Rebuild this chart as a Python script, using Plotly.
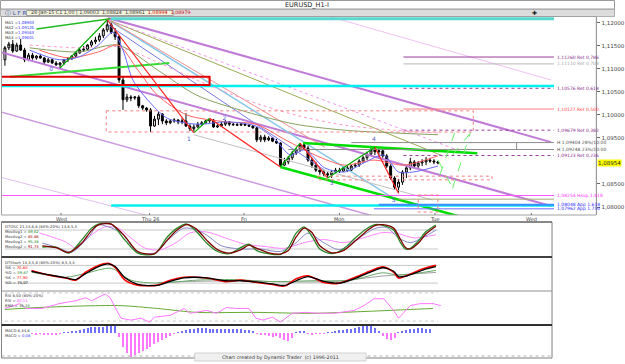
import plotly.graph_objects as go

W, H = 625, 364
def px(v): return v / W
def py(v): return 1 - v / H

FONT = "DejaVu Sans"

# ---------------- candle data (EURUSD H1) ----------------
first_open = 1.1120
close = [1.1146, 1.1154, 1.1139, 1.1152, 1.1141, 1.1120, 1.1130, 1.1124, 1.1128, 1.1124,
         1.1115, 1.1120, 1.1113, 1.1109, 1.1113, 1.1120, 1.1122, 1.1128, 1.1135, 1.1141,
         1.1143, 1.1152, 1.1159, 1.1163, 1.1172, 1.1185, 1.1196, 1.1180, 1.1170, 1.1076,
         1.1033, 1.1039, 1.1037, 1.1039, 1.1020, 1.1015, 1.1011, 1.0976, 1.0991, 1.1002,
         1.0987, 1.0983, 1.0987, 1.0989, 1.0985, 1.0987, 1.0976, 1.0970, 1.0974, 1.0980,
         1.0983, 1.0987, 1.0989, 1.0974, 1.0976, 1.0980, 1.0985, 1.0980, 1.0979, 1.0978,
         1.0980, 1.0978, 1.0976, 1.0972, 1.0946, 1.0952, 1.0946, 1.0950, 1.0943, 1.0939,
         1.0891, 1.0898, 1.0907, 1.0917, 1.0924, 1.0935, 1.0928, 1.0902, 1.0891, 1.0880,
         1.0876, 1.0872, 1.0870, 1.0876, 1.0880, 1.0878, 1.0885, 1.0880, 1.0889, 1.0891,
         1.0900, 1.0907, 1.0915, 1.0924, 1.0920, 1.0922, 1.0911, 1.0889, 1.0863, 1.0843,
         1.0854, 1.0876, 1.0885, 1.0898, 1.0889, 1.0896, 1.0898, 1.0902, 1.0900, 1.0898, 1.0896]
high = [1.1150, 1.1159, 1.1163, 1.1157, 1.1165, 1.1146, 1.1135, 1.1135, 1.1130, 1.1133,
        1.1126, 1.1124, 1.1122, 1.1117, 1.1115, 1.1122, 1.1126, 1.1130, 1.1137, 1.1146,
        1.1150, 1.1154, 1.1163, 1.1170, 1.1178, 1.1189, 1.1207, 1.1202, 1.1189, 1.1174,
        1.1083, 1.1046, 1.1043, 1.1041, 1.1043, 1.1022, 1.1017, 1.1015, 1.0998, 1.1007,
        1.1004, 1.0991, 1.0991, 1.0993, 1.0991, 1.0993, 1.1004, 1.0980, 1.0980, 1.0985,
        1.0987, 1.0989, 1.0993, 1.0991, 1.0980, 1.0985, 1.0989, 1.0987, 1.0983, 1.0983,
        1.0983, 1.0983, 1.0980, 1.0978, 1.0974, 1.0957, 1.0957, 1.0954, 1.0952, 1.0948,
        1.0941, 1.0907, 1.0911, 1.0922, 1.0928, 1.0939, 1.0939, 1.0933, 1.0907, 1.0898,
        1.0885, 1.0880, 1.0876, 1.0880, 1.0885, 1.0885, 1.0889, 1.0889, 1.0893, 1.0896,
        1.0904, 1.0911, 1.0920, 1.0928, 1.0930, 1.0928, 1.0926, 1.0915, 1.0893, 1.0867,
        1.0861, 1.0880, 1.0891, 1.0907, 1.0902, 1.0900, 1.0904, 1.0909, 1.0907, 1.0904, 1.0900]
low = [1.1107, 1.1141, 1.1135, 1.1137, 1.1139, 1.1115, 1.1117, 1.1120, 1.1120, 1.1122,
       1.1111, 1.1113, 1.1111, 1.1107, 1.1102, 1.1109, 1.1115, 1.1120, 1.1124, 1.1133,
       1.1137, 1.1141, 1.1148, 1.1154, 1.1159, 1.1167, 1.1180, 1.1176, 1.1163, 1.1070,
       1.1011, 1.1028, 1.1030, 1.1033, 1.1015, 1.1011, 1.1007, 1.0963, 1.0974, 1.0978,
       1.0980, 1.0978, 1.0980, 1.0983, 1.0980, 1.0980, 1.0974, 1.0965, 1.0961, 1.0972,
       1.0976, 1.0980, 1.0983, 1.0972, 1.0972, 1.0974, 1.0976, 1.0976, 1.0976, 1.0976,
       1.0976, 1.0976, 1.0974, 1.0970, 1.0941, 1.0941, 1.0941, 1.0943, 1.0941, 1.0937,
       1.0887, 1.0889, 1.0893, 1.0902, 1.0913, 1.0920, 1.0924, 1.0898, 1.0885, 1.0876,
       1.0870, 1.0867, 1.0863, 1.0863, 1.0872, 1.0874, 1.0876, 1.0876, 1.0878, 1.0885,
       1.0887, 1.0896, 1.0902, 1.0911, 1.0913, 1.0909, 1.0907, 1.0885, 1.0859, 1.0837,
       1.0830, 1.0848, 1.0863, 1.0880, 1.0885, 1.0885, 1.0889, 1.0891, 1.0896, 1.0893, 1.0893]
n = len(close)
bars = list(range(n))
open_ = [first_open] + close[:-1]

# moving averages (sampled)
ma1_x = [6.25, 13.75, 18.75, 23.75, 27.5, 30, 32.5, 36.25, 41.25, 48.75, 56.25, 63.75, 68.75, 72.5, 76.25, 81.25, 86.25, 91.25, 96.25, 100, 103.75, 110]
ma1_y = [1.1141, 1.1120, 1.1126, 1.1152, 1.1180, 1.1141, 1.1076, 1.1033, 1.0993, 1.0980, 1.0985, 1.0976, 1.0946, 1.0913, 1.0924, 1.0885, 1.0876, 1.0896, 1.0913, 1.0876, 1.0876, 1.0889]
ma2_x = [8.75, 16.25, 23.75, 28.75, 33.75, 38.75, 46.25, 56.25, 63.75, 71.25, 78.75, 86.25, 93.75, 101.25, 110]
ma2_y = [1.1141, 1.1124, 1.1137, 1.1152, 1.1098, 1.1043, 1.1000, 1.0985, 1.0980, 1.0946, 1.0913, 1.0891, 1.0902, 1.0891, 1.0911]
ma3_x = [6.25, 18.75, 28.75, 38.75, 48.75, 61.25, 73.75, 86.25, 98.75, 110]
ma3_y = [1.1146, 1.1137, 1.1152, 1.1098, 1.1043, 1.1007, 1.0980, 1.0967, 1.0961, 1.0957]
ma4_x = [6.25, 18.75, 28.75, 38.75, 48.75, 61.25, 73.75, 86.25, 98.75, 110]
ma4_y = [1.1152, 1.1146, 1.1148, 1.1115, 1.1076, 1.1033, 1.1000, 1.0978, 1.0967, 1.0961]

# zigzag pivots
zz_x = [14, 26, 48, 52, 70, 75, 82, 94, 100]
zz_y = [1.1102, 1.1207, 1.0961, 1.0993, 1.0887, 1.0939, 1.0863, 1.0930, 1.0830]
wave_lab = ["0", "1", "2", "3", "4", "5"]
wave_x = [11.75, 46.75, 55.75, 83, 93.75, 98.75]
wave_y = [1.1098, 1.0946, 1.0993, 1.0852, 1.0946, 1.0815]

# horizontal levels: price, start bar, label
lvl_price = [1.1126, 1.1111, 1.1058, 1.1013, 1.0967, 1.0940, 1.0925, 1.0912, 1.0825, 1.0805, 1.0796]
lvl_start = [101.25, 101.25, 101.25, 101.25, 101.25, 88, 72, 101.25, -1.25, 95, 93.75]
lvl_text = ["1,11260 Ret 0,786", "1,11110 Ret 0,708", "1,10576 Ret 0,618", "1,10127 Ret 0,500",
            "1,09679 Ret 0,382", "H 1,09404 28%/10:00", "H 1,09248 23%/10:00", "1,09123 Ret 0,236",
            "1,08254 Hsup 1.618", "1,08048 App 1.618", "1,07962 App 1.750"]
lvl_col = ["#9a3c9a", "#b8b8b8", "#9a3c9a", "#ff7f7f", "#9a3c9a", "#8c8c8c", "#8c8c8c", "#9a3c9a",
           "#ff55ff", "#3a8cff", "#6a6aff"]
lvl_tcol = ["#8a2c8a", "#a8a8a8", "#8a2c8a", "#ff4040", "#8a2c8a", "#505050", "#505050", "#8a2c8a",
            "#ff33ff", "#2a2aff", "#2a2aff"]
lvl_end = 139.5
hmark_x = 130

# oscillators
st1_gx = [9.5, 13, 16.25, 19.5, 22, 23.75, 27, 30.5, 33.75, 38, 41.25, 43.75, 46.25, 48.75, 51.25, 54, 57, 60, 62, 64, 67, 70, 72, 74, 76, 78, 80, 83, 86, 89, 92, 94, 96, 98.75, 100.5, 101.75, 103, 105, 107, 109.5]
st1_g = [26, 26, 7, 48, 86, 99, 99, 48, 7, 4, 58, 86, 99, 74, 39, 12, 5, 25, 35, 15, 5, 3, 25, 70, 90, 60, 20, 5, 20, 55, 85, 97, 95, 80, 40, 20, 22, 45, 75, 96]
st1_r = [30, 24, 9, 38, 78, 96, 99, 60, 12, 5, 48, 80, 97, 82, 48, 18, 7, 18, 32, 22, 8, 4, 15, 58, 86, 72, 30, 8, 15, 45, 78, 94, 97, 86, 50, 25, 20, 38, 68, 92]
st1_bx = [9.5, 13.75, 17, 21.25, 23.75, 26.25, 29.5, 33.75, 38, 42, 45.5, 48.75, 51.25, 55, 60, 65, 70, 74, 77, 81, 85, 90, 94, 97, 100, 103, 106, 109.5]
st1_b = [39, 23, 10, 58, 96, 90, 71, 10, 7, 55, 86, 80, 64, 30, 20, 20, 12, 40, 70, 40, 18, 55, 85, 88, 55, 40, 55, 80]
st1_px = [8.75, 15.5, 18, 21.25, 25.5, 28.75, 32, 35.5, 39.5, 43.75, 47, 51.25, 56, 61, 66, 71, 76, 81, 86, 91, 96, 100, 104, 109.5]
st1_p = [71, 42, 23, 58, 90, 86, 55, 23, 17, 42, 71, 74, 55, 35, 28, 22, 40, 50, 40, 55, 72, 68, 55, 65]

st2_x = [6.75, 11.25, 15.5, 18, 20.5, 23.75, 26.25, 28, 30.5, 33.75, 38.75, 42, 45.5, 51.25, 56, 60, 64, 68, 71, 74, 77, 81, 85, 89, 93, 96, 98.75, 100, 102, 105, 107, 109.5]
st2_r = [63, 47, 37, 30, 57, 80, 87, 73, 30, 13, 13, 30, 40, 37, 25, 30, 22, 15, 10, 35, 45, 22, 20, 40, 62, 75, 57, 37, 45, 62, 72, 80]
st2_k = [60, 48, 38, 32, 52, 76, 85, 76, 38, 16, 12, 26, 38, 38, 28, 28, 24, 17, 12, 28, 42, 26, 20, 36, 58, 72, 60, 42, 44, 58, 68, 76]
st2_gx = [6.75, 15.5, 20.5, 27, 32, 38.75, 48.75, 58, 68, 78, 88, 96, 100, 109.5]
st2_g = [57, 40, 53, 70, 30, 20, 30, 32, 25, 28, 30, 55, 47, 63]
st2_ax = [38.75, 48.75, 60, 72, 84, 96, 109.5]
st2_a = [22, 26, 28, 24, 26, 44, 56]

rsi_x = [0, 3.75, 5.5, 9.5, 13.75, 18, 20.5, 22, 25.5, 26.75, 28, 29.5, 32, 34.5, 36.75, 38, 42, 45.5, 47, 51.25, 53.75, 56.25, 58.75, 62, 63.75, 65.5, 68, 70, 73, 76.25, 79.5, 83.75, 88.75, 91.25, 93.75, 96.25, 98.75, 100, 103, 105.5, 108.75, 110.75]
rsi_v = [46.9, 57.2, 46.9, 46.9, 57.2, 63.4, 69.7, 63.4, 77.9, 69.7, 49.0, 26.2, 22.1, 26.2, 17.9, 28.3, 32.4, 46.9, 36.6, 42.8, 36.6, 49.0, 46.9, 46.9, 26.2, 22.1, 28.3, 17.9, 36.6, 38.6, 36.6, 36.6, 42.8, 53.1, 67.6, 67.6, 42.8, 26.2, 53.1, 57.2, 57.2, 53.1]
ema_x = [0, 8.75, 28.75, 38.75, 48.75, 63.75, 78, 92, 108.75]
ema_v = [44.8, 49.0, 53.1, 46.9, 38.6, 38.6, 36.6, 40.7, 46.9]

macd = [0, 0, 0, 0, 0, 0, 0, -1, -1.5, -1, -1.5, -2, -2, -1.5, -1, 0.5, 1, 1.5,
        2, 3, 4, 5, 6, 6, 6, 6, 7, 7, 7,
        -4, -14, -20, -24, -22, -20, -18, -16, -14, -11, -9, -7, -5, -3, -1,
        1, 2, 3, 4, 4, 5, 5, 5, 4,
        4, 4, 4, 4, 4, 4, 4, 4, 3, 3, 2,
        -1, -2, -2, -3, -4, -3, -5, -7, -8, -5,
        1, 2, 2, -1, -1.5, -1, -1, -0.5, 0.5, 1,
        2, 3, 3, 4, 4, 5, 6, 7, 8, 8, 5, 2,
        -3, -6, -7, -5,
        1, 2, 3, 4, 4, 5, 5, 4, 4]

day_x = [14.25, 36.75, 60.75, 85, 109.25, 133.75]
day_lab = ["Wed", "Thu 26", "Fri", "Mon", "Tue", "Wed"]

price_ticks = [1.080, 1.085, 1.095, 1.100, 1.105, 1.110, 1.115, 1.120]

# ---------------- figure ----------------
fig = go.Figure()
XR_MAIN = [-0.75, 150.25]
XR_SUB = [-0.75, 139.0]

def seg(x0, y0, x1, y1, color, width=1.0, dash="solid", xa="x", ya="y"):
    fig.add_trace(go.Scatter(x=[x0, x1], y=[y0, y1], mode="lines",
                             line=dict(color=color, width=width, dash=dash),
                             hoverinfo="skip", showlegend=False, xaxis=xa, yaxis=ya))

def curve(xs, ys, color, width=1.0, dash="solid", xa="x", ya="y", shape="spline"):
    fig.add_trace(go.Scatter(x=xs, y=ys, mode="lines",
                             line=dict(color=color, width=width, dash=dash, shape=shape, smoothing=0.8),
                             hoverinfo="skip", showlegend=False, xaxis=xa, yaxis=ya))

# channel / fan lines
seg(26.25, 1.1211, 138.75, 1.0941, "#c07ad8", 2)
seg(-1.25, 1.1137, 138.75, 1.0802, "#c07ad8", 2)
seg(-1.25, 1.1007, 93.75, 1.0780, "#cc99e0", 1.5)
seg(-1.25, 1.0865, 38.75, 1.0776, "#e0bff0", 1)
seg(81.25, 1.1217, 138.75, 1.1076, "#f2c0f2", 1)
seg(26.25, 1.1207, 99.5, 1.0815, "#88c8e8", 1.5)
seg(26.25, 1.1196, 81.25, 1.0880, "#7878e0", 1)
seg(26.25, 1.1207, 81.25, 1.0930, "#f09090", 1)
seg(26.25, 1.1207, 111.25, 1.0911, "#9aaa55", 1)
seg(26.25, 1.1207, 116.25, 1.0920, "#ee99ee", 1, "dot")
seg(48, 1.0957, 108.75, 1.0815, "#c0c0c0", 1)
seg(1.25, 1.1083, 41.75, 1.1113, "#33dd33", 2)
seg(8, 1.1187, 26.75, 1.1209, "#22bb22", 1.5)
seg(70, 1.0887, 120.75, 1.0767, "#00dd00", 2.5)
seg(75.75, 1.0939, 120, 1.0917, "#00dd00", 2.5)

# thick cyan levels
seg(27, 1.1209, 139.5, 1.1209, "#5ad8d0", 3)
seg(-1.25, 1.1063, 139.5, 1.1063, "#00f0f0", 2.5)
seg(27, 1.0803, 139.5, 1.0803, "#00f0f0", 2.5)
seg(100, 1.0817, 139.5, 1.0817, "#a8a878", 1)

for i, (p, s, c) in enumerate(zip(lvl_price, lvl_start, lvl_col)):
    wdt = 2 if i == 9 else 1
    dash = "dot" if i in (2, 4, 7) else "solid"
    seg(s, p, lvl_end, p, c, wdt, dash)
seg(hmark_x, lvl_price[5], hmark_x, lvl_price[6], "#8c8c8c", 1)

# moving averages
curve(ma4_x, ma4_y, "#ff99cc", 1, "dot")
curve(ma3_x, ma3_y, "#88a060", 1)
curve(ma2_x, ma2_y, "#ff6060", 1)
curve(ma1_x, ma1_y, "#6a6aff", 1)

# rectangles
shapes = []
def rect(x0, y0, x1, y1, color, width=1, dash="solid", xref="x", yref="y"):
    shapes.append(dict(type="rect", xref=xref, yref=yref, x0=x0, y0=y0, x1=x1, y1=y1,
                       line=dict(color=color, width=width, dash=dash), fillcolor="rgba(0,0,0,0)", layer="above"))
rect(-1.25, 1.1083, 52, 1.1065, "#e00000", 2)
rect(25.75, 1.1009, 119, 1.0963, "#f08080", 1, "dot")
rect(105, 1.0826, 110, 1.0789, "#f08080", 1, "dot")
rect(79.5, 1.0867, 123.75, 1.0859, "#f08080", 1, "dot")

# lime projection arrows
seg(110, 1.0902, 113.75, 1.0841, "#66ee66", 1, "dash")
seg(110.5, 1.0870, 114.25, 1.0961, "#66ee66", 1, "dash")
seg(113.75, 1.0913, 118.25, 1.0961, "#66ee66", 1, "dash")
seg(113.75, 1.0841, 118.25, 1.0961, "#66ee66", 1, "dash")

# candles
fig.add_trace(go.Candlestick(x=bars, open=open_, high=high, low=low, close=close,
                             increasing=dict(line=dict(color="#000000", width=1), fillcolor="#f0f0f0"),
                             decreasing=dict(line=dict(color="#000000", width=1), fillcolor="#000000"),
                             whiskerwidth=0, hoverinfo="skip", showlegend=False, xaxis="x", yaxis="y"))

# zigzag
for k in range(len(zz_x) - 1):
    col = "#00b000" if zz_y[k + 1] > zz_y[k] else "#ff2020"
    seg(zz_x[k], zz_y[k], zz_x[k + 1], zz_y[k + 1], col, 1.2)

fig.add_trace(go.Scatter(x=wave_x, y=wave_y, mode="text", text=wave_lab,
                         textfont=dict(family=FONT, size=6, color="#5a5acc"),
                         hoverinfo="skip", showlegend=False, xaxis="x", yaxis="y"))

# ---- subpanel 1: DTOSC
for lvl in (80, 20):
    seg(0, lvl, 110, lvl, "#c8c8c8", 1, xa="x2", ya="y2")
curve(st1_px, st1_p, "#ff88ff", 1, xa="x2", ya="y2")
curve(st1_bx, st1_b, "#8888cc", 1, xa="x2", ya="y2")
curve(st1_gx, st1_g, "#2a8a2a", 1.3, xa="x2", ya="y2")
curve(st1_gx, st1_r, "#800000", 1.3, xa="x2", ya="y2")

# ---- subpanel 2: DTStoch
for lvl in (80, 20):
    seg(0, lvl, 110, lvl, "#c8c8c8", 1, xa="x3", ya="y3")
curve(st2_ax, st2_a, "#a0a0a0", 1, xa="x3", ya="y3")
curve(st2_gx, st2_g, "#66aa66", 1, xa="x3", ya="y3")
curve(st2_x, st2_r, "#ff0000", 1.6, xa="x3", ya="y3")
curve(st2_x, st2_k, "#000000", 1.3, xa="x3", ya="y3")

# ---- subpanel 3: RSI
for lvl in (80, 20):
    seg(0, lvl, 110, lvl, "#c8c8c8", 1, "dot", xa="x4", ya="y4")
curve(ema_x, ema_v, "#66aa33", 1, xa="x4", ya="y4")
curve(rsi_x, rsi_v, "#ff77ff", 1, xa="x4", ya="y4", shape="linear")

# ---- subpanel 4: MACD
fig.add_trace(go.Bar(x=bars, y=macd, marker=dict(color=["#7070ff" if v >= 0 else "#ff77ff" for v in macd], line=dict(width=0)),
                     width=0.3, hoverinfo="skip", showlegend=False, xaxis="x5", yaxis="y5"))

# ---------------- layout ----------------
ax_hidden = dict(visible=False, showgrid=False, zeroline=False, fixedrange=True)
layout = dict(
    width=W, height=H, margin=dict(l=0, r=0, t=0, b=0),
    paper_bgcolor="#ffffff", plot_bgcolor="#ffffff", showlegend=False,
    font=dict(family=FONT, size=6, color="#333333"),
    xaxis=dict(domain=[px(2), px(606)], range=XR_MAIN, rangeslider=dict(visible=False), anchor="y", **ax_hidden),
    yaxis=dict(domain=[py(215), py(17)], range=[1.07826, 1.12130], side="right", anchor="x",
               tickvals=price_ticks, ticktext=[("%.5f" % v).replace(".", ",") for v in price_ticks],
               ticks="outside", ticklen=3, tickcolor="#666666", tickfont=dict(size=5.5, color="#444444", family=FONT),
               showline=True, linecolor="#777777", linewidth=1, showgrid=False, zeroline=False),
    xaxis2=dict(domain=[px(2), px(561)], range=XR_SUB, anchor="y2", **ax_hidden),
    yaxis2=dict(domain=[py(257), py(222)], range=[-5.4, 105.4], anchor="x2", **ax_hidden),
    xaxis3=dict(domain=[px(2), px(561)], range=XR_SUB, anchor="y3", **ax_hidden),
    yaxis3=dict(domain=[py(291), py(257)], range=[-6.8, 108.5], anchor="x3", **ax_hidden),
    xaxis4=dict(domain=[px(2), px(561)], range=XR_SUB, anchor="y4", **ax_hidden),
    yaxis4=dict(domain=[py(325), py(291)], range=[11.7, 84.1], anchor="x4", **ax_hidden),
    xaxis5=dict(domain=[px(2), px(561)], range=XR_SUB, anchor="y5", **ax_hidden),
    yaxis5=dict(domain=[py(358), py(325)], range=[-25, 8], anchor="x5", **ax_hidden),
    bargap=0,
)

# frames (paper)
def prect(x0, y0, x1, y1, color, width=1, fill="rgba(0,0,0,0)", layer="above"):
    shapes.append(dict(type="rect", xref="paper", yref="paper", x0=px(x0), y0=py(y0), x1=px(x1), y1=py(y1),
                       line=dict(color=color, width=width), fillcolor=fill, layer=layer))
def pline(x0, y0, x1, y1, color, width=1, dash="solid"):
    shapes.append(dict(type="line", xref="paper", yref="paper", x0=px(x0), y0=py(y0), x1=px(x1), y1=py(y1),
                       line=dict(color=color, width=width, dash=dash), layer="above"))

prect(0.5, 0.5, 624.5, 9, "#9a9a9a", 1, "#ffffff")
prect(0.5, 9, 624.5, 16.5, "#b0b0b0", 1, "#dcdcdc", "below")
prect(27, 10.5, 176, 15.5, "#a0a0a0", 1, "#f4f4dc", "below")
prect(1.5, 16.5, 606, 215, "#a0a0a0", 1)
prect(1.5, 222, 561, 358, "#808080", 1)
pline(1.5, 222, 561, 222, "#505050", 1)
pline(1.5, 257, 561, 257, "#404040", 2)
pline(1.5, 291, 561, 291, "#909090", 1)
pline(1.5, 325, 561, 325, "#303030", 2)
pline(1.5, 356, 561, 356, "#b0b0b0", 1, "dot")
for xd in (62, 152, 248, 345, 442, 540):
    pline(xd, 213, xd, 215, "#777777", 1)
prect(198, 353, 372, 361, "#d0d0d0", 1, "#f0f0f0")

layout["shapes"] = shapes

ann = []
def txt(x, y, s, color="#333333", size=5.5, anchor="left", bg=None, yanchor="middle"):
    d = dict(xref="paper", yref="paper", x=px(x), y=py(y), text=s, showarrow=False, align="left",
             xanchor=anchor, yanchor=yanchor, font=dict(family=FONT, size=size, color=color))
    if bg:
        d["bgcolor"] = bg
    ann.append(d)

txt(312, 5, "EURUSD_H1-I", "#222222", 6.5, "center")
txt(3, 12.8, "ⓘ L F R", "#3050a0", 5.5)
txt(29, 13, "28-Jan-15 C1 1,00 | 1,09003  1,08824  1,08961  <span style='color:#d00000'>1,08994  1,08979</span>", "#333333", 4.8)
txt(543, 12.8, "✚", "#222222", 6, "center")
txt(3, 17.5, "MA1 =<span style='color:#3030ff'>1,08903</span><br>MA2 =<span style='color:#3030ff'>1,09126</span><br>"
             "MA3 =<span style='color:#3030ff'>1,09563</span><br>MA4 =<span style='color:#3030ff'>1,09601</span>",
    "#333333", 3.9, yanchor="top")

for p, t, c in zip(lvl_price, lvl_text, lvl_tcol):
    ann.append(dict(xref="paper", yref="y", x=px(564), y=p, text=t, showarrow=False, xanchor="left",
                    yanchor="middle", font=dict(family=FONT, size=4.5, color=c)))
ann.append(dict(xref="paper", yref="y", x=px(606.5), y=close[-1], text="1,08954", showarrow=False,
                xanchor="left", yanchor="middle", bgcolor="#ffff00", borderpad=0,
                font=dict(family=FONT, size=5.5, color="#222222")))

for xd, lab in zip(day_x, day_lab):
    ann.append(dict(xref="x", yref="paper", x=xd, y=py(218.5), text=lab, showarrow=False, xanchor="center",
                    yanchor="middle", font=dict(family=FONT, size=5, color="#444444")))

txt(3, 222.3, "DTOSC 21,13,8,8 (80%-20%) 14,8,5,3<br>MovAvg1 = <span style='color:#2a8a2a'>89,62</span><br>"
              "MovAvg2 = <span style='color:#a00000'>85,86</span><br>MovAvg1 = <span style='color:#2a8a2a'>95,38</span><br>"
              "MovAvg2 = <span style='color:#a00000'>91,73</span>", "#333333", 3.8, yanchor="top")
txt(3, 257.8, "DTStoch 14,3,5,8 (80%-20%) 8,5,3,4<br>%K = <span style='color:#ff0000'>70,80</span><br>"
              "%D = <span style='color:#2a8a2a'>59,87</span><br>%K = <span style='color:#ff0000'>77,90</span><br>"
              "%D = <span style='color:#000000'>73,07</span>", "#333333", 3.8, yanchor="top")
txt(3, 291.3, "RSI 8,50 (80%-20%)<br>RSI = <span style='color:#ff44ff'>80,11</span><br>"
              "EMA = <span style='color:#2a8a2a'>46,33</span>", "#333333", 3.8, yanchor="top")
txt(3, 325.8, "MACD 8,34,8<br>MACD = <span style='color:#3030ff'>0,08</span>", "#333333", 3.8, yanchor="top")
txt(285, 357.5, "Chart created by Dynamic Trader  (c) 1996-2011", "#333333", 4.8, "center")

layout["annotations"] = ann
fig.update_layout(**layout)
fig.write_html("out.html", include_plotlyjs=True, config=dict(displayModeBar=False))
